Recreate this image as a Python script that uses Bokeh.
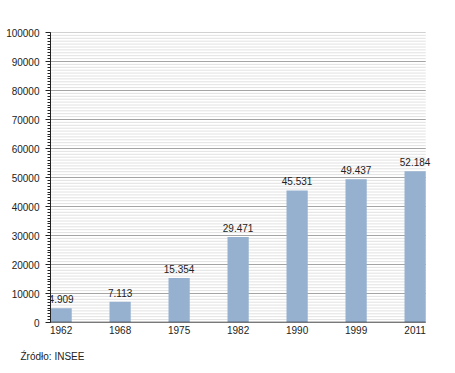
from bokeh.plotting import figure
from bokeh.models import ColumnDataSource, FixedTicker, Range1d, Title, LabelSet
from bokeh.core.properties import value
from bokeh.embed import file_html
from bokeh.resources import INLINE

years = ["1962", "1968", "1975", "1982", "1990", "1999", "2011"]
population = [4909, 7113, 15354, 29471, 45531, 49437, 52184]
value_labels = ["4.909", "7.113", "15.354", "29.471", "45.531", "49.437", "52.184"]
y_ticks = [0, 10000, 20000, 30000, 40000, 50000, 60000, 70000, 80000, 90000, 100000]
minor_ticks = list(range(0, 100001, 1000))
source_text = "Źródło: INSEE"

xs = list(range(len(years)))
src = ColumnDataSource(dict(x=xs, top=population, lab=value_labels))

FONT = "Liberation Sans"
bw = 0.36
W, H = 447, 373
BL, BR, BT, BB = 50, 5, 32, 47
px_per_unit = 59.0
x0 = -bw / 2
x1 = x0 + (W - BL - BR) / px_per_unit
grid_end = len(years) - 1 + bw / 2

p = figure(width=W, height=H, output_backend="svg", toolbar_location=None,
           x_range=Range1d(x0, x1), y_range=Range1d(0, 100000),
           min_border_left=BL, min_border_right=BR, min_border_top=BT, min_border_bottom=BB)
p.outline_line_color = None
p.background_fill_color = "white"
p.xgrid.grid_line_color = None
p.ygrid.grid_line_color = None

# grid lines (minor then major), limited to the bar area
minor_only = [t for t in minor_ticks if t not in y_ticks]
p.segment(x0=[x0] * len(minor_only), x1=[grid_end] * len(minor_only), y0=minor_only, y1=minor_only,
          line_color="#e2e2e2", line_width=1)
p.segment(x0=[x0] * len(y_ticks), x1=[grid_end] * len(y_ticks), y0=y_ticks, y1=y_ticks,
          line_color="#a4a4a4", line_width=1)

p.vbar(x="x", top="top", width=bw, source=src, color="#95b1cf", line_color=None)

labels = LabelSet(x="x", y="top", text="lab", source=src, text_align="center",
                  text_baseline="bottom", y_offset=5, text_font_size="10px",
                  text_font=value(FONT), text_color="#222222")
p.add_layout(labels)

# y axis
p.yaxis.ticker = FixedTicker(ticks=y_ticks, minor_ticks=minor_ticks)
p.yaxis.axis_line_color = "#222222"
p.yaxis.major_tick_out = 5
p.yaxis.major_tick_in = 0
p.yaxis.minor_tick_out = 3
p.yaxis.minor_tick_in = 0
p.yaxis.major_tick_line_color = "#222222"
p.yaxis.minor_tick_line_color = "#222222"
p.yaxis.major_label_text_font = FONT
p.yaxis.major_label_text_font_size = "10px"
p.yaxis.major_label_text_color = "#222222"
p.yaxis.major_label_standoff = 6
p.yaxis.formatter.use_scientific = False

# x axis
p.xaxis.ticker = FixedTicker(ticks=xs)
p.xaxis.major_label_overrides = {i: y for i, y in enumerate(years)}
p.xaxis.axis_line_color = None
p.xaxis.major_tick_out = 0
p.xaxis.major_tick_in = 0
p.xaxis.minor_tick_out = 0
p.xaxis.minor_tick_in = 0
p.xaxis.major_label_text_font = FONT
p.xaxis.major_label_text_font_size = "10px"
p.xaxis.major_label_text_color = "#222222"
p.xaxis.major_label_standoff = 3

# bottom axis line only under the bar area
p.segment(x0=[x0], x1=[grid_end], y0=[0], y1=[0], line_color="#222222", line_width=1.5)

t = Title(text=source_text, align="left", offset=-30, text_font=FONT,
          text_font_size="10px", text_font_style="normal", text_color="#222222",
          standoff=24)
p.add_layout(t, "below")

open("out.html", "w").write(file_html(p, INLINE))
